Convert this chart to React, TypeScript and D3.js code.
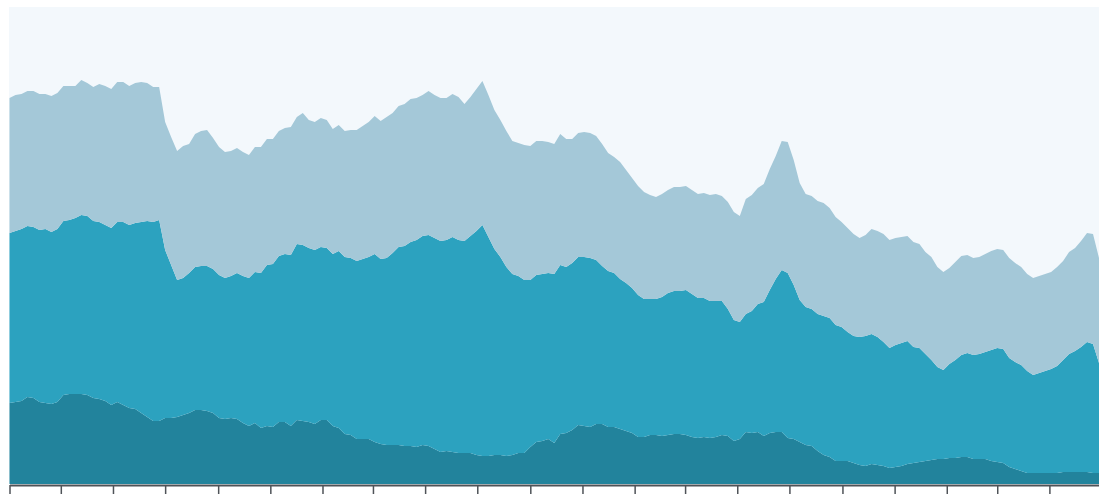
import React, { useEffect, useRef } from 'react';
import * as d3 from 'd3';

// weekly observations, first week starts on 1 Jan 2016
const startDate = new Date(2016, 0, 1);
const weekCount = 183;
const dates: Date[] = d3.range(weekCount).map(i => d3.timeWeek.offset(startDate, i));

// bottom layer
const baseValues = [
  81, 82, 83, 87, 86, 82, 81, 80, 82, 89,
  90, 90, 90, 89, 86, 85, 83, 79, 82, 79,
  76, 75, 71, 67, 63, 63, 66, 66, 67, 69,
  71, 74, 74, 73, 71, 66, 65, 66, 65, 61,
  58, 61, 56, 58, 57, 62, 62, 58, 64, 63,
  62, 60, 64, 64, 58, 56, 50, 49, 45, 45,
  45, 42, 40, 39, 39, 39, 38, 38, 37, 39,
  38, 35, 32, 33, 32, 31, 31, 31, 29, 28,
  28, 29, 29, 28, 29, 31, 31, 37, 42, 43,
  45, 41, 50, 51, 54, 59, 58, 57, 60, 60,
  57, 57, 55, 53, 51, 47, 47, 49, 49, 48,
  49, 50, 50, 49, 47, 46, 47, 46, 47, 49,
  48, 43, 45, 52, 51, 52, 48, 51, 52, 52,
  46, 45, 42, 39, 38, 33, 29, 27, 23, 23,
  23, 21, 19, 18, 20, 19, 18, 16, 17, 18,
  20, 21, 22, 23, 24, 25, 25, 26, 26, 27,
  27, 25, 25, 25, 23, 22, 21, 17, 15, 13,
  11, 11, 11, 11, 11, 11, 12, 12, 12, 12,
  12, 11, 11,
];

// middle layer
const coreValues = [
  170, 171, 172, 171, 171, 172, 174, 172, 173, 174,
  174, 176, 179, 179, 177, 177, 176, 177, 180, 183,
  183, 186, 191, 196, 199, 201, 168, 153, 137, 137,
  140, 143, 144, 145, 144, 143, 141, 142, 146, 147,
  148, 151, 155, 161, 163, 166, 168, 171, 176, 176,
  174, 174, 173, 172, 172, 177, 177, 177, 178, 180,
  182, 188, 185, 187, 192, 198, 200, 204, 207, 209,
  211, 211, 211, 211, 215, 213, 212, 217, 224, 231,
  219, 206, 198, 189, 181, 177, 173, 167, 167, 167,
  166, 169, 169, 166, 167, 168, 169, 169, 164, 158,
  156, 154, 150, 148, 145, 142, 138, 136, 136, 139,
  142, 143, 143, 145, 143, 140, 139, 137, 136, 134,
  127, 121, 117, 118, 122, 128, 134, 143, 153, 162,
  165, 154, 142, 138, 137, 137, 139, 139, 136, 134,
  129, 127, 128, 130, 130, 128, 124, 120, 122, 123,
  123, 116, 114, 107, 100, 92, 89, 94, 98, 102,
  104, 104, 105, 107, 111, 114, 114, 109, 107, 106,
  102, 98, 100, 102, 104, 107, 112, 118, 121, 125,
  130, 129, 110,
];

// top layer
const extraValues = [
  135, 136, 135, 135, 136, 136, 135, 136, 136, 135,
  134, 132, 135, 133, 134, 138, 139, 139, 140, 140,
  139, 140, 140, 138, 135, 133, 128, 128, 129, 132,
  129, 133, 135, 136, 131, 128, 126, 125, 125, 124,
  123, 125, 126, 126, 125, 125, 126, 128, 127, 132,
  128, 128, 129, 128, 125, 126, 126, 128, 131, 133,
  135, 138, 138, 141, 140, 141, 142, 143, 142, 141,
  144, 143, 143, 142, 143, 143, 137, 139, 142, 144,
  142, 139, 137, 136, 133, 133, 135, 134, 134, 133,
  131, 130, 131, 128, 124, 124, 125, 125, 124, 122,
  118, 116, 117, 113, 110, 109, 107, 104, 102, 103,
  103, 104, 104, 104, 104, 104, 105, 106, 107, 105,
  107, 108, 106, 115, 116, 116, 118, 121, 123, 129,
  131, 125, 117, 113, 113, 113, 113, 110, 108, 105,
  104, 102, 99, 101, 105, 106, 108, 108, 107, 106,
  105, 105, 104, 102, 103, 100, 98, 96, 98, 99,
  98, 97, 97, 98, 99, 99, 99, 100, 99, 98,
  97, 97, 97, 97, 97, 99, 99, 102, 103, 106,
  109, 110, 105,
];

const seriesKeys = ['base', 'core', 'extra'];
const seriesColors = ['#22839c', '#2ca2bf', '#a4c8d8'];

type Row = { date: Date; base: number; core: number; extra: number };

const App: React.FC = () => {
  const svgRef = useRef<SVGSVGElement | null>(null);

  useEffect(() => {
    const svg = d3.select(svgRef.current);
    svg.selectAll('*').remove();

    const width = 1099;
    const height = 494;
    const margin = { top: 7, right: 0, bottom: 10, left: 9 };
    const plotBottom = height - margin.bottom;

    const rows: Row[] = dates.map((date, i) => ({
      date,
      base: baseValues[i],
      core: coreValues[i],
      extra: extraValues[i],
    }));

    const x = d3
      .scaleTime()
      .domain(d3.extent(dates) as [Date, Date])
      .range([margin.left + 0.5, width - margin.right]);

    const y = d3
      .scaleLinear()
      .domain([0, 477])
      .range([plotBottom, margin.top]);

    // plot background
    svg
      .append('rect')
      .attr('x', margin.left)
      .attr('y', margin.top)
      .attr('width', width - margin.left - margin.right)
      .attr('height', plotBottom - margin.top)
      .attr('fill', '#f3f8fc');

    const stacked = d3.stack<Row>().keys(seriesKeys)(rows);

    const area = d3
      .area<d3.SeriesPoint<Row>>()
      .x(d => x(d.data.date))
      .y0(d => y(d[0]))
      .y1(d => y(d[1]));

    svg
      .append('g')
      .selectAll('path')
      .data(stacked)
      .join('path')
      .attr('fill', (_, i) => seriesColors[i])
      .attr('d', area);

    // x axis, ticks every two months, no labels
    const axis = svg
      .append('g')
      .attr('transform', `translate(0,${plotBottom + 1})`)
      .call(
        d3
          .axisBottom(x)
          .ticks(d3.timeMonth.every(2))
          .tickSize(10)
          .tickSizeOuter(0)
          .tickFormat(() => '')
      );
    axis.select('.domain').attr('stroke', '#4f5358').attr('stroke-width', 2);
    axis.selectAll('.tick line').attr('stroke', '#4f5358').attr('stroke-width', 1.5);
  }, []);

  return (
    <svg
      ref={svgRef}
      width={1099}
      height={494}
      style={{ position: 'fixed', left: 0, top: 0, display: 'block' }}
    />
  );
};

export default App;
